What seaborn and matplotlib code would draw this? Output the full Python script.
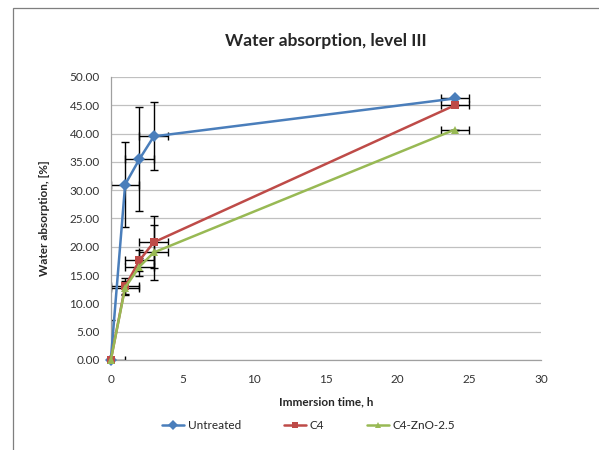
import numpy as np
import pandas as pd
import matplotlib
matplotlib.use('Agg')
import matplotlib.pyplot as plt
import seaborn as sns
from matplotlib.patches import Rectangle

# data
hours = [0, 1, 2, 3, 24]
untreated = [0.0, 31.0, 35.5, 39.5, 46.2]
c4 = [0.0, 13.0, 17.6, 20.8, 45.0]
c4_zno = [0.0, 12.8, 16.5, 19.0, 40.7]
untreated_err = [7.0, 7.5, 9.2, 6.0, 0.0]
c4_err = [0.0, 1.5, 1.8, 4.6, 0.0]
c4_zno_err = [0.0, 1.2, 1.6, 4.9, 0.0]
untreated_xerr = [1, 1, 1, 1, 1]
c4_xerr = [0, 1, 1, 1, 1]
c4_zno_xerr = [0, 1, 1, 1, 1]

series = ['Untreated', 'C4', 'C4-ZnO-2.5']
colors = ['#4A7EBB', '#BE4B48', '#98B954']
markers = ['D', 's', '^']

df = pd.DataFrame({
    'time': hours * 3,
    'value': untreated + c4 + c4_zno,
    'series': [s for s in series for _ in hours],
})

sns.set_style('white')
plt.rcParams['font.family'] = ['Lato', 'DejaVu Sans']

fig = plt.figure(figsize=(5.99, 4.5), dpi=100)
ax = fig.add_axes([0.185, 0.2, 0.718, 0.629])

# Excel-like chart border
fig.patches.append(Rectangle((0.022, -0.01), 1.0, 0.993, transform=fig.transFigure,
                             fill=False, edgecolor='#7f7f7f', linewidth=0.9))

# error bars stay clipped to the plot area (like Excel)
for vals, errs, xe in [(untreated, untreated_err, untreated_xerr),
                       (c4, c4_err, c4_xerr),
                       (c4_zno, c4_zno_err, c4_zno_xerr)]:
    ax.errorbar(hours, vals, yerr=errs, xerr=xe, fmt='none', ecolor='black',
                elinewidth=1.0, capsize=3, capthick=1.0, zorder=2)

n_before = len(ax.lines)
sns.lineplot(data=df, x='time', y='value', hue='series', style='series',
             palette=colors, markers=markers, dashes=False, markersize=6,
             markeredgewidth=0, linewidth=1.8, ax=ax, zorder=3)
# let the markers at x=0 show in full
for line in ax.lines[n_before:]:
    line.set_clip_on(False)

ax.set_xlim(0, 30)
ax.set_ylim(0, 50)
ax.set_xticks(range(0, 31, 5))
ax.set_yticks(np.arange(0, 50.1, 5))
ax.set_yticklabels([f'{v:.2f}' for v in np.arange(0, 50.1, 5)])
ax.tick_params(labelsize=8.5, colors='#333333', length=0)
ax.tick_params(axis='x', pad=10)
ax.tick_params(axis='y', pad=8)
ax.grid(axis='y', color='#c0c0c0', linewidth=0.9)
ax.set_axisbelow(True)
for side in ['top', 'right']:
    ax.spines[side].set_visible(False)
for side in ['left', 'bottom']:
    ax.spines[side].set_color('#a0a0a0')
    ax.spines[side].set_linewidth(0.9)

ax.set_title('Water absorption, level III', fontsize=12.5, fontweight='bold', pad=22)
ax.set_xlabel('Immersion time, h', fontsize=8.5, fontweight='bold', labelpad=8)
ax.set_ylabel('Water absorption, [%]', fontsize=8.5, fontweight='bold', labelpad=14)

handles, labels = ax.get_legend_handles_labels()
ax.legend(handles, labels, loc='center', bbox_to_anchor=(0.46, -0.232), ncol=3,
          frameon=False, fontsize=8.5, handlelength=1.9, handletextpad=0.3,
          columnspacing=3.6, markerscale=0.8)

fig.savefig('out.png', dpi=100)
